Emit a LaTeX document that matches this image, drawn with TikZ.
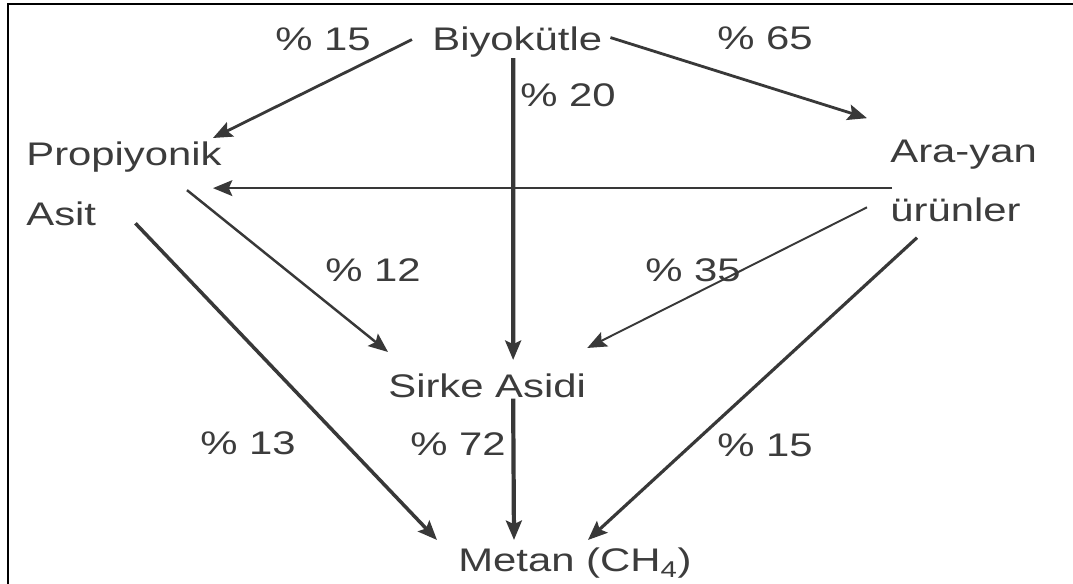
\documentclass[tikz,border=0pt]{standalone}
\usepackage{fontspec}
\setmainfont{Liberation Sans}[FakeStretch=1.28]
\usepackage{tikz}
\usetikzlibrary{calc,arrows.meta}

\begin{document}
\begin{tikzpicture}[x=0.02cm,y=-0.02cm,
    lbl/.style={inner sep=0pt,anchor=base west,text=inkGray,font=\fontsize{18.6}{22}\selectfont},
    flow/.style={draw=lineGray,line width=2pt,-{Stealth[length=11pt,width=9pt,inset=2pt]}},
    flowthin/.style={flow,line width=1.1pt}]
            \definecolor{inkGray}{HTML}{3C3C3C}
            \definecolor{lineGray}{HTML}{383838}

            \fill[white] (0,0) rectangle (1073,584);
            \useasboundingbox (0,0) rectangle (1073,584);
            \draw[line width=1.4pt] (8,584) -- (8,4) -- (1073,4);

            \node[lbl] (bio) at (432,51) {Biyokütle};
            \node[lbl] (prop) at (26,166) {Propiyonik};
            \node[lbl] (asit) at (26,226) {Asit};
            \node[lbl] (ara) at (890,163) {Ara-yan};
            \node[lbl] (urun) at (890,222) {ürünler};
            \node[lbl] (sirke) at (388,398) {Sirke Asidi};
            \node[lbl] (metan) at (458,572) {Metan (CH\textsubscript{4})};

            \node[lbl] (p15a) at (275,51) {\% 15};
            \node[lbl] (p65) at (717,50) {\% 65};
            \node[lbl] (p20) at (520,107) {\% 20};
            \node[lbl] (p12) at (325,282) {\% 12};
            \node[lbl] (p35) at (645,282) {\% 35};
            \node[lbl] (p13) at (200,455) {\% 13};
            \node[lbl] (p72) at (410,456) {\% 72};
            \node[lbl] (p15b) at (717,457) {\% 15};

            \draw[flow,line width=1.6pt] ($(bio.west)+(-20,-3)$) -- ($(prop.north east)+(-9,-4)$);
            \draw[flow,line width=1.6pt] ($(bio.east)+(8,-5)$) -- ($(ara.north west)+(-23,-22)$);
            \draw[flow,line width=2.4pt] ($(bio.south)+(-4,0)$) -- ($(sirke.north)+(26,-14)$);
            \draw[flowthin] ($(ara.south west)+(2,18)$) -- ($(prop.south east)+(-9,15)$);
            \draw[flowthin,line width=1.4pt] ($(prop.south east)+(-35,17)$) -- ($(sirke.north west)+(0,-22)$);
            \draw[flowthin] ($(urun.west)+(-23,-3)$) -- ($(sirke.north east)+(1,-26)$);
            \draw[flow] ($(asit.east)+(39,9)$) -- ($(metan.north west)+(-21,-8)$);
            \draw[flow,line width=2.4pt] ($(sirke.south)+(26,0)$) -- ($(metan.north)+(-61,-8)$);
            \draw[flow,line width=1.8pt] ($(urun.south west)+(27,15)$) -- ($(metan.north)+(13,-8)$);
        \end{tikzpicture}
\end{document}
